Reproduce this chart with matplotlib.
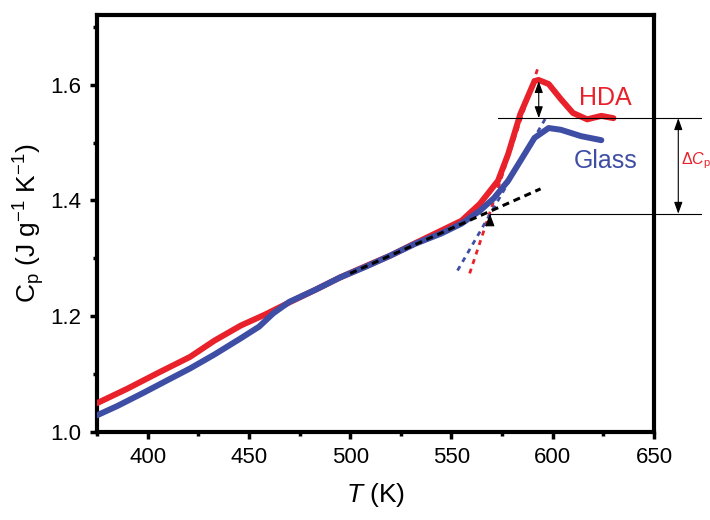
import matplotlib
matplotlib.use("Agg")
import matplotlib.pyplot as plt
from matplotlib.ticker import MultipleLocator

plt.rcParams['font.family'] = ['Liberation Sans', 'DejaVu Sans']
plt.rcParams['mathtext.fontset'] = 'custom'
plt.rcParams['mathtext.rm'] = 'Liberation Sans'
plt.rcParams['mathtext.it'] = 'Liberation Sans:italic'

# curvas
t_hda = [375, 390, 405, 421, 433, 446, 458, 470, 483, 495, 508, 520, 532,
         545, 555, 564, 573, 578, 584, 591, 593, 598, 604, 610, 617, 624, 630]
cp_hda = [1.050, 1.075, 1.102, 1.130, 1.158, 1.184, 1.203, 1.224, 1.246, 1.267,
          1.287, 1.305, 1.326, 1.348, 1.365, 1.394, 1.434, 1.480, 1.549, 1.606,
          1.608, 1.601, 1.575, 1.551, 1.540, 1.546, 1.542]

t_glass = [375, 385, 398, 410, 421, 433, 446, 455, 462, 470, 483, 495, 508,
           520, 532, 545, 555, 564, 571, 578, 584, 591, 598, 604, 614, 624]
cp_glass = [1.029, 1.045, 1.068, 1.090, 1.110, 1.134, 1.162, 1.182, 1.205, 1.225,
            1.246, 1.267, 1.286, 1.305, 1.325, 1.343, 1.360, 1.382, 1.404, 1.434,
            1.468, 1.508, 1.525, 1.522, 1.511, 1.504]

# rectas de extrapolación
t_base = [500, 594]
cp_base = [1.274, 1.420]
t_hda_ext = [559, 593]
cp_hda_ext = [1.274, 1.632]
t_glass_ext = [553, 596.5]
cp_glass_ext = [1.279, 1.542]

cp_top = 1.542
cp_bot = 1.377

rojo = '#e8212b'
azul = '#3f4ea5'

fig = plt.figure(figsize=(7.1, 5.2), dpi=100)
ax = fig.add_axes([0.1366, 0.169, 0.7845, 0.802])

ax.plot(t_hda, cp_hda, color=rojo, lw=4.3, solid_capstyle='round', zorder=3)
ax.plot(t_glass, cp_glass, color=azul, lw=4.3, solid_capstyle='round', zorder=3)

ax.plot(t_hda_ext, cp_hda_ext, color=rojo, lw=2, ls=(0, (1.8, 1.8)), zorder=2)
ax.plot(t_glass_ext, cp_glass_ext, color=azul, lw=2, ls=(0, (1.8, 1.8)), zorder=2)
ax.plot(t_base, cp_base, color='black', lw=2.2, ls=(0, (2.3, 1.6)), zorder=4)

# líneas horizontales de referencia
ax.plot([573, 673], [cp_top, cp_top], color='black', lw=0.8, clip_on=False, zorder=5)
ax.plot([569, 673], [cp_bot, cp_bot], color='black', lw=0.8, clip_on=False, zorder=5)

flecha = dict(arrowstyle='<|-|>,head_length=0.7,head_width=0.25', color='black',
              lw=0.8, mutation_scale=10, shrinkA=0, shrinkB=0)
ax.annotate('', xy=(662, cp_top), xytext=(662, cp_bot), arrowprops=flecha,
            annotation_clip=False)
ax.annotate('', xy=(593.1, 1.606), xytext=(593.1, cp_top), arrowprops=flecha)
ax.annotate('', xy=(569, cp_bot), xytext=(569, 1.362),
            arrowprops=dict(arrowstyle='-|>,head_length=0.75,head_width=0.28',
                            color='black', lw=0.8, mutation_scale=10,
                            shrinkA=0, shrinkB=0))

ax.text(626, 1.577, 'HDA', color=rojo, fontsize=18, ha='center', va='center')
ax.text(626, 1.468, 'Glass', color=azul, fontsize=18, ha='center', va='center')
ax.text(663.4, 1.468, r'$\Delta C_\mathrm{p}$', color=rojo, fontsize=11.5,
        ha='left', va='center', clip_on=False)

ax.set_xlim(375, 650)
ax.set_ylim(1.0, 1.72)
ax.xaxis.set_major_locator(MultipleLocator(50))
ax.xaxis.set_minor_locator(MultipleLocator(25))
ax.yaxis.set_major_locator(MultipleLocator(0.2))
ax.yaxis.set_minor_locator(MultipleLocator(0.1))
ax.set_yticks([1.0, 1.2, 1.4, 1.6])
ax.set_yticklabels(['1.0', '1.2', '1.4', '1.6'])

for s in ax.spines.values():
    s.set_linewidth(3)
ax.tick_params(which='major', direction='out', length=5, width=2.5,
               labelsize=16, pad=6)
ax.tick_params(which='minor', direction='out', length=3, width=2.5)

ax.set_xlabel(r'$T$ (K)', fontsize=19, labelpad=9)
ax.set_ylabel(r'C$_\mathrm{p}$ (J g$^{-1}$ K$^{-1}$)', fontsize=19, labelpad=3)

fig.savefig('out.png', dpi=100)
